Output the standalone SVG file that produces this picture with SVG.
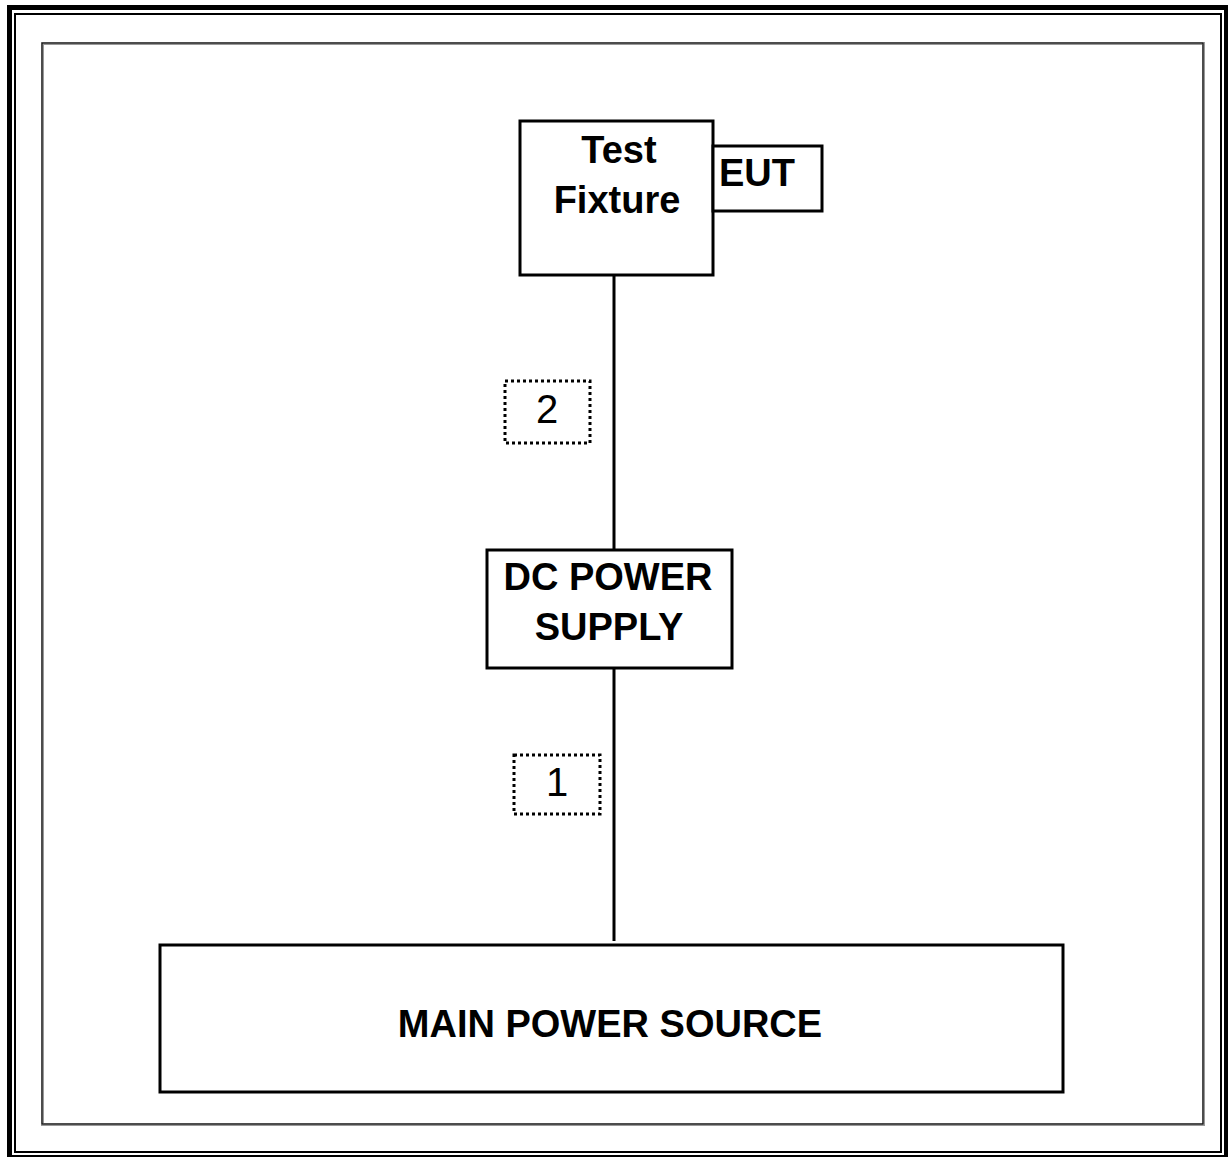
<svg xmlns="http://www.w3.org/2000/svg" width="1228" height="1157" viewBox="0 0 1228 1157">
<style>
.box{fill:#fff;stroke:#000;stroke-width:3}
.lbl{font-family:"Liberation Sans",Arial,sans-serif;font-weight:bold;font-size:38px;text-anchor:middle;fill:#000}
.num{font-family:"Liberation Sans",Arial,sans-serif;font-size:40px;text-anchor:middle;fill:#000}
.dot{fill:none;stroke:#000;stroke-width:3;stroke-dasharray:3 3}
.wire{stroke:#000;stroke-width:3;fill:none}
</style>
<rect x="0" y="0" width="1228" height="1157" fill="#fff"/>
<g id="frame">
<rect x="9.5" y="7.5" width="1217" height="1150" fill="none" stroke="#000" stroke-width="5"/>
<rect x="15" y="14" width="1206" height="1138" fill="none" stroke="#000" stroke-width="2"/>
<rect x="42.5" y="43.5" width="1161" height="1081" fill="none" stroke="#999" stroke-width="3"/>
<rect x="42" y="43" width="1161" height="1081" fill="none" stroke="#000" stroke-width="1"/>
</g>
<g id="connectors">
<line class="wire" x1="614" y1="275" x2="614" y2="550"/>
<line class="wire" x1="614" y1="668" x2="614" y2="941"/>
</g>
<g id="test-fixture">
<rect class="box" x="520" y="121" width="193" height="154"/>
<text class="lbl" x="619" y="163" font-size="40">Test</text>
<text class="lbl" x="617" y="213" font-size="40">Fixture</text>
</g>
<g id="eut">
<rect class="box" x="713" y="146" width="109" height="65"/>
<text class="lbl" x="757" y="186">EUT</text>
</g>
<g id="label-2">
<rect class="dot" x="505" y="381" width="85" height="62"/>
<text class="num" x="547" y="423">2</text>
</g>
<g id="dc-power-supply">
<rect class="box" x="487" y="550" width="245" height="118"/>
<text class="lbl" x="608" y="590">DC POWER</text>
<text class="lbl" x="609" y="640">SUPPLY</text>
</g>
<g id="label-1">
<rect class="dot" x="514" y="755" width="86" height="59"/>
<text class="num" x="557" y="796">1</text>
</g>
<g id="main-power-source">
<rect class="box" x="160" y="945" width="903" height="147"/>
<text class="lbl" x="610" y="1037">MAIN POWER SOURCE</text>
</g>
</svg>
